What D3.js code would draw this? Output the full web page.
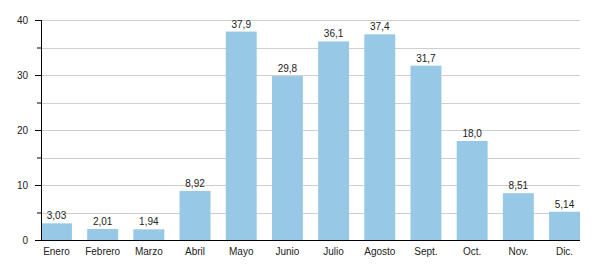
<!DOCTYPE html>
<html>
<head>
<meta charset="utf-8">
<script src="https://cdn.jsdelivr.net/npm/d3@7"></script>
<style>
  body { margin: 0; background: #fff; }
  text { font-family: "Liberation Sans", Arial, sans-serif; fill: #222; }
</style>
</head>
<body>
<div id="viz"></div>
<script>
const months = ['Enero', 'Febrero', 'Marzo', 'Abril', 'Mayo', 'Junio', 'Julio', 'Agosto', 'Sept.', 'Oct.', 'Nov.', 'Dic.']
const values = [3.03, 2.01, 1.94, 8.92, 37.9, 29.8, 36.1, 37.4, 31.7, 18.0, 8.51, 5.14]
const yTicks = [0, 10, 20, 30, 40]
const yMinorTicks = [5, 15, 25, 35]

const data = months.map((m, i) => ({month: m, value: values[i]}))

let dimensions = {
  width: 600,
  height: 280,
  margin: {top: 20, right: 20, bottom: 40, left: 41},
}
dimensions.boundedWidth = dimensions.width - dimensions.margin.left - dimensions.margin.right
dimensions.boundedHeight = dimensions.height - dimensions.margin.top - dimensions.margin.bottom

const fmt = d3.formatLocale({decimal: ',', thousands: '.', grouping: [3], currency: ['', '']}).format('.3r')

const wrapper = d3.select('#viz')
  .append('svg')
  .attr('width', dimensions.width)
  .attr('height', dimensions.height)

const chart = wrapper.append('g')
  .attr('transform', `translate(${dimensions.margin.left},${dimensions.margin.top})`)

// scales
const xScale = d3.scaleBand()
  .domain(months)
  .range([0, dimensions.boundedWidth])
  .paddingInner(0.33)
  .paddingOuter(0)

const yScale = d3.scaleLinear()
  .domain([0, 40])
  .range([dimensions.boundedHeight, 0])

// gridlines
chart.append('g')
  .selectAll('line')
  .data(yTicks.concat(yMinorTicks).filter(d => d > 0))
  .join('line')
  .attr('x1', 0)
  .attr('x2', dimensions.boundedWidth)
  .attr('y1', d => Math.round(yScale(d)) + 0.5)
  .attr('y2', d => Math.round(yScale(d)) + 0.5)
  .attr('stroke', '#cfcfcf')
  .attr('stroke-width', 1)

// bars
chart.append('g')
  .selectAll('rect')
  .data(data)
  .join('rect')
  .attr('x', d => xScale(d.month))
  .attr('y', d => yScale(d.value))
  .attr('width', xScale.bandwidth())
  .attr('height', d => dimensions.boundedHeight - yScale(d.value))
  .attr('fill', '#97c9e6')

// value labels
chart.append('g')
  .selectAll('text')
  .data(data)
  .join('text')
  .attr('x', d => xScale(d.month) + xScale.bandwidth() / 2)
  .attr('y', d => yScale(d.value) - 4)
  .attr('text-anchor', 'middle')
  .style('font-size', '10px')
  .text(d => fmt(d.value))

// axes
const yAxis = chart.append('g')
  .call(d3.axisLeft(yScale).tickValues(yTicks).tickSize(6).tickPadding(7).tickFormat(d3.format('d')))
yAxis.select('.domain').attr('d', `M0.5,0V${dimensions.boundedHeight}`).attr('stroke', '#000')
yAxis.selectAll('.tick line').attr('stroke', '#000')
yAxis.selectAll('text').style('font-size', '10px').style('fill', '#222')

chart.append('g')
  .selectAll('line')
  .data(yMinorTicks)
  .join('line')
  .attr('x1', -4)
  .attr('x2', 0)
  .attr('y1', d => yScale(d) + 0.5)
  .attr('y2', d => yScale(d) + 0.5)
  .attr('stroke', '#000')

const xAxis = chart.append('g')
  .attr('transform', `translate(0,${dimensions.boundedHeight})`)
  .call(d3.axisBottom(xScale).tickSize(0).tickPadding(8))
xAxis.select('.domain').attr('d', `M0,0.5H${dimensions.boundedWidth}`).attr('stroke', '#000').attr('stroke-width', 1.2)
xAxis.selectAll('text').style('font-size', '10px').style('fill', '#222')
</script>
</body>
</html>
